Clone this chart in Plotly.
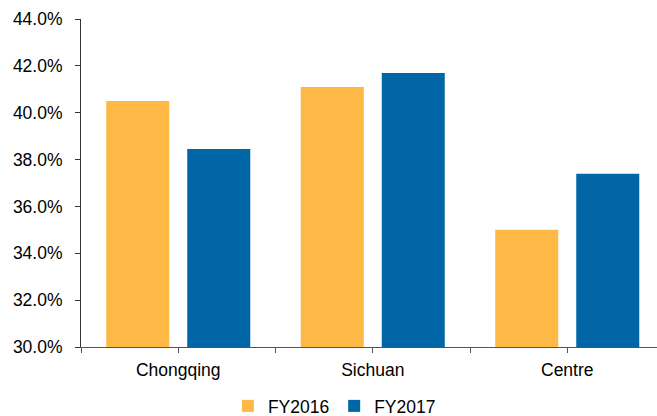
import plotly.graph_objects as go

categories = ["Chongqing", "Sichuan", "Centre"]
fy2016 = [40.5, 41.1, 35.0]
fy2017 = [38.45, 41.7, 37.4]
series_names = ["FY2016", "FY2017"]
y_ticks = [30, 32, 34, 36, 38, 40, 42, 44]
y_tick_labels = ["30.0%", "32.0%", "34.0%", "36.0%", "38.0%", "40.0%", "42.0%", "44.0%"]

colors = ["#FDB846", "#0066A6"]
font = dict(family="Arial, Liberation Sans, sans-serif", size=17.5, color="#000000")

xpos = list(range(len(categories)))

fig = go.Figure()
fig.add_trace(go.Bar(x=xpos, y=fy2016, name=series_names[0], marker=dict(color=colors[0], line=dict(width=0)), base=0))
fig.add_trace(go.Bar(x=xpos, y=fy2017, name=series_names[1], marker=dict(color=colors[1], line=dict(width=0)), base=0))

tickvals = []
ticktext = []
for i, c in enumerate(categories):
    tickvals += [i - 0.5, i]
    ticktext += ["", c]

fig.update_layout(
    width=657, height=416,
    margin=dict(l=81, r=0, t=19, b=69, pad=0, autoexpand=False),
    paper_bgcolor="white", plot_bgcolor="white",
    barmode="group", bargap=0.167, bargroupgap=0.222,
    font=font,
    showlegend=True,
    legend=dict(orientation="h", x=0.255, xanchor="left", y=-0.125, yanchor="top",
                font=font, itemwidth=30, traceorder="normal", tracegroupgap=0,
                bgcolor="rgba(0,0,0,0)"),
    xaxis=dict(range=[-0.5, 2.4614], tickmode="array", tickvals=tickvals, ticktext=ticktext,
               showgrid=False, zeroline=False, showline=True, linecolor="#555555", linewidth=1,
               ticks="outside", ticklen=5, tickcolor="#555555", ticklabelstandoff=2, tickfont=font,
               automargin=False),
    yaxis=dict(range=[30, 44], tickmode="array", tickvals=y_ticks, ticktext=y_tick_labels,
               showgrid=False, zeroline=False, showline=True, linecolor="#333333", linewidth=1,
               ticks="outside", ticklen=5, tickcolor="#333333", ticklabelstandoff=9, tickfont=font,
               automargin=False),
)

fig.write_html("out.html")
